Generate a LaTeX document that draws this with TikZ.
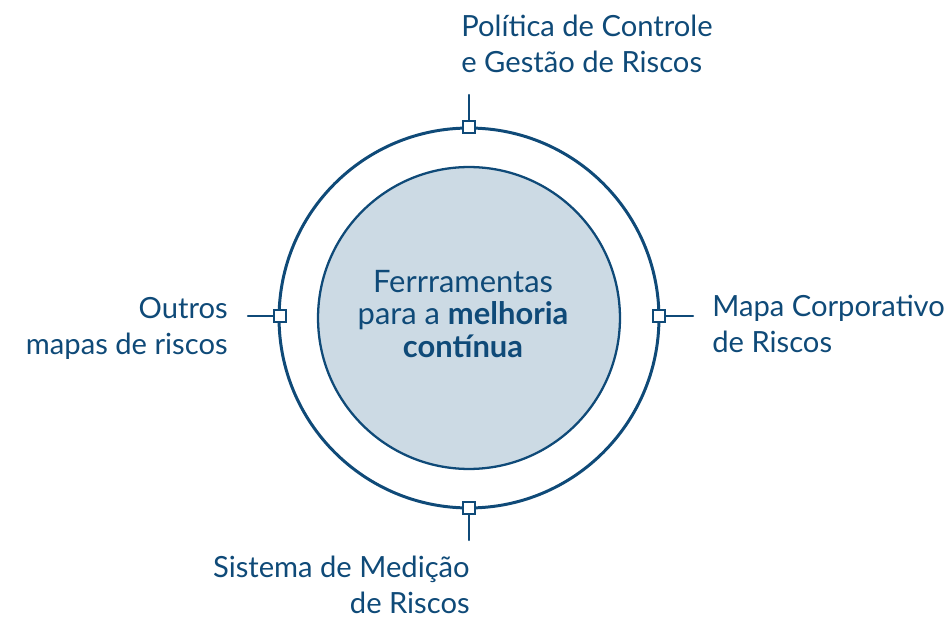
\documentclass[tikz,border=0pt]{standalone}
\usepackage{fontspec}
\setmainfont{Lato}
\usetikzlibrary{positioning}
\definecolor{riskblue}{HTML}{0F4A78}
\definecolor{riskfill}{HTML}{CCDAE4}

\begin{document}
\begin{tikzpicture}[x=0.02cm,y=-0.02cm,line cap=round,
  marker/.style={draw=riskblue,fill=white,line width=1.3pt,minimum size=0.23cm,inner sep=0pt},
  riskline/.style={draw=riskblue,line width=1.4pt},
  riskitem/.style={text=riskblue,inner sep=0pt,font=\fontsize{16.6}{20.5}\selectfont}]
\useasboundingbox (0,0) rectangle (950,621);
% circles
\draw[riskblue,line width=1.7pt] (469,318) circle (3.8cm);
\draw[riskblue,line width=1.3pt,fill=riskfill] (469,318) circle (3.02cm);
\node[riskitem,align=center,font=\fontsize{17.6}{18.3}\selectfont] (tools) at (463,314)
  {Ferrramentas\\para a \textbf{melhoria}\\\textbf{contínua}};
% markers on the outer circle
\node[marker] (mtop) at (469,127) {};
\node[marker] (mleft) at (280,316) {};
\node[marker] (mright) at (659,316) {};
\node[marker] (mbottom) at (469,508) {};
\coordinate (etop) at (469,95);
\coordinate (eleft) at (248,316);
\coordinate (eright) at (693,316);
\coordinate (ebottom) at (469,540);
\draw[riskline] (mtop) -- (etop);
\draw[riskline] (mleft) -- (eleft);
\draw[riskline] (mright) -- (eright);
\draw[riskline] (mbottom) -- (ebottom);
% labels
\node[riskitem,align=left,anchor=west] (policy) at (461,44)
  {Política de Controle\\e Gestão de Riscos};
\node[riskitem,align=left,anchor=west] (map) at (712,324)
  {Mapa Corporativo\\de Riscos};
\node[riskitem,align=right,anchor=east] (others) at (228,328)
  {Outros\\mapas de riscos};
\node[riskitem,align=right,anchor=east] (system) at (470,585)
  {Sistema de Medição\\de Riscos};
\end{tikzpicture}
\end{document}
